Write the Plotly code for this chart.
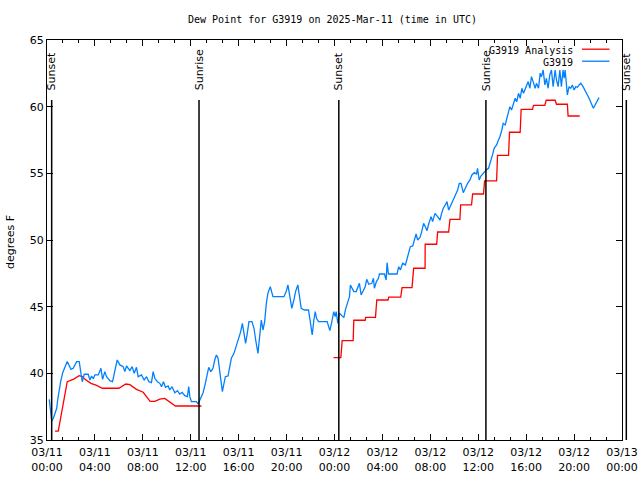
import pandas as pd
import plotly.graph_objects as go

BASE = pd.Timestamp("2025-03-11 00:00")

# Observed dew point (G3919): hours since 03/11 00:00 UTC, degrees F
obs_hours = [0.19, 0.28, 0.39, 0.53, 0.67, 0.81, 0.89, 1.0, 1.14, 1.31, 1.5, 1.69, 1.83, 2.0, 2.19, 2.47, 2.69, 2.83,
             2.94, 3.11, 3.44, 3.58, 3.72, 3.86, 4.0, 4.28, 4.5, 4.64, 4.83, 4.97, 5.25, 5.47, 5.67, 5.86, 6.08, 6.36,
             6.5, 6.64, 6.92, 7.11, 7.28, 7.47, 7.61, 7.89, 8.11, 8.31, 8.5, 8.72, 8.86, 9.0, 9.22, 9.42, 9.56, 9.72,
             9.89, 10.11, 10.25, 10.44, 10.67, 10.89, 11.08, 11.28, 11.5, 11.72, 11.83, 11.92, 12.06, 12.47, 12.61,
             12.75, 13.03, 13.22, 13.39, 13.5, 13.67, 13.86, 14.0, 14.14, 14.28, 14.42, 14.56, 14.64, 14.75, 14.89,
             15.11, 15.25, 15.39, 15.61, 15.81, 16.03, 16.17, 16.31, 16.44, 16.58, 16.72, 16.86, 17.11, 17.28, 17.42,
             17.61, 17.75, 17.89, 18.03, 18.17, 18.31, 18.44, 18.64, 18.86, 19.78, 19.97, 20.11, 20.25, 20.44, 20.61,
             20.75, 20.94, 21.08, 21.22, 21.5, 21.83, 22.0, 22.14, 22.28, 22.39, 22.5, 22.67, 23.39, 23.61, 23.78,
             23.94, 24.06, 24.14, 24.28, 24.42, 24.61, 24.78, 24.92, 25.06, 25.25, 25.33, 25.44, 25.61, 25.81, 25.94,
             26.08, 26.22, 26.39, 26.56, 26.69, 26.86, 27.11, 27.25, 27.33, 27.5, 27.67, 27.75, 28.17, 28.31, 28.39,
             28.5, 29.22, 29.36, 29.5, 29.69, 29.92, 30.06, 30.17, 30.33, 30.53, 30.67, 30.81, 30.94, 31.14, 31.28,
             31.44, 31.58, 31.72, 31.86, 32.06, 32.19, 32.39, 32.61, 32.81, 32.94, 33.08, 33.25, 33.39, 33.53, 33.72,
             33.92, 34.08, 34.28, 34.42, 34.56, 34.75, 34.92, 35.11, 35.31, 35.47, 35.67, 35.86, 35.94, 36.08, 36.22,
             36.36, 36.56, 36.72, 36.86, 37.06, 37.19, 37.33, 37.53, 37.69, 37.81, 37.97, 38.08, 38.25, 38.36, 38.5,
             38.64, 38.78, 38.92, 39.08, 39.22, 39.36, 39.5, 39.64, 39.78, 39.97, 40.17, 40.31, 40.44, 40.58, 40.75,
             40.86, 41.03, 41.17, 41.28, 41.42, 41.56, 41.69, 41.83, 41.97, 42.11, 42.25, 42.42, 42.53, 42.67, 42.81,
             42.94, 43.08, 43.17, 43.25, 43.36, 43.44, 43.58, 43.72, 43.86, 44.0, 44.14, 44.28, 44.42, 44.56, 44.75,
             44.97, 45.25, 45.61, 45.86, 46.08]
obs_values = [38.05, 37.13, 36.43, 36.63, 37.0, 37.38, 38.0, 38.75, 39.37, 40.05, 40.55, 40.88, 40.63, 40.3, 40.38,
              40.88, 40.88, 40.0, 39.37, 39.93, 39.93, 39.5, 39.8, 39.6, 39.88, 39.88, 40.38, 39.55, 40.13, 39.75,
              39.45, 39.37, 40.13, 41.0, 40.63, 40.5, 40.13, 40.55, 40.2, 40.5, 40.0, 40.45, 39.75, 39.88, 39.5, 39.75,
              39.37, 39.3, 40.13, 39.63, 39.37, 39.25, 39.0, 39.37, 38.95, 39.05, 38.75, 39.0, 38.55, 38.7, 38.45,
              38.58, 38.33, 38.25, 39.0, 38.25, 37.88, 37.88, 37.7, 38.0, 38.55, 39.25, 40.13, 40.45, 40.13, 40.38,
              41.0, 41.38, 41.13, 40.25, 39.25, 38.63, 39.13, 39.75, 39.8, 40.5, 41.13, 41.5, 42.13, 42.63, 43.13,
              43.75, 43.13, 42.25, 43.0, 43.88, 43.88, 43.38, 42.5, 41.5, 42.75, 44.0, 43.25, 43.88, 45.25, 46.0, 46.5,
              45.75, 45.75, 46.13, 46.63, 46.0, 44.88, 45.5, 46.13, 46.63, 45.88, 44.88, 44.75, 44.75, 43.75, 42.88,
              44.0, 44.63, 44.13, 43.88, 43.88, 43.2, 43.88, 44.63, 44.25, 44.63, 43.75, 44.5, 44.33, 44.18, 44.8,
              45.3, 45.75, 46.63, 46.45, 46.13, 46.13, 46.5, 46.75, 45.88, 46.25, 46.5, 47.05, 46.68, 46.75, 47.13,
              46.38, 46.88, 47.13, 47.45, 47.45, 47.0, 48.3, 47.45, 47.45, 48.0, 47.75, 48.25, 48.13, 48.63, 49.0,
              49.5, 49.55, 50.13, 50.45, 50.0, 50.2, 50.63, 51.25, 51.0, 50.7, 51.2, 51.75, 51.38, 52.0, 51.75, 51.5,
              52.0, 52.38, 52.63, 52.88, 52.25, 52.63, 53.05, 53.38, 53.75, 54.25, 54.25, 53.55, 53.88, 54.25, 54.5,
              54.88, 55.05, 54.95, 55.38, 54.5, 54.8, 54.95, 55.13, 55.3, 55.38, 56.13, 56.38, 56.88, 57.13, 57.5,
              57.75, 58.25, 58.75, 58.63, 59.0, 59.5, 60.0, 59.75, 60.25, 60.63, 60.38, 61.0, 60.63, 61.38, 61.0,
              61.38, 61.88, 61.38, 62.25, 61.88, 61.38, 61.75, 61.38, 62.5, 62.25, 62.75, 61.63, 62.13, 61.38, 62.38,
              62.75, 61.5, 62.75, 62.0, 61.5, 62.75, 61.5, 62.75, 62.13, 62.75, 61.63, 60.88, 61.5, 61.38, 61.63,
              61.25, 61.5, 61.45, 61.63, 61.75, 61.5, 61.13, 60.63, 59.88, 60.25, 60.68]

# Analysis (G3919 Analysis); None marks the gap in the analysis
ana_hours = [0.67, 0.94, 1.69, 2.19, 2.69, 2.97, 3.17, 3.67, 4.14, 4.61, 6.0, 6.58, 6.92, 7.47, 8.03, 8.61, 9.0, 9.42,
             9.83, 10.72, 12.89, 18.0,
             23.92, 24.53, 24.64, 25.56, 25.61, 26.56, 26.6, 27.42, 27.53, 28.47, 28.53, 29.53, 29.64, 30.47, 30.61,
             31.56, 31.57, 32.53, 32.61, 33.53, 33.64, 34.47, 34.53, 35.44, 35.53, 36.44, 36.53, 37.53, 37.61, 38.53,
             38.61, 39.5, 39.58, 40.53, 40.61, 41.56, 41.67, 42.42, 42.53, 43.44, 43.5, 44.47]
ana_values = [35.67, 35.67, 39.37, 39.55, 39.82, 39.75, 39.55, 39.25, 39.1, 38.88, 38.88, 39.2, 39.15, 38.8, 38.58,
              37.9, 37.9, 38.07, 38.12, 37.55, 37.55, None,
              41.18, 41.18, 42.45, 42.45, 43.98, 43.98, 44.2, 44.2, 45.5, 45.5, 45.72, 45.72, 46.43, 46.43, 47.88,
              47.88, 49.68, 49.68, 50.6, 50.6, 51.55, 51.55, 52.63, 52.63, 53.45, 53.45, 54.43, 54.43, 56.35, 56.35,
              58.08, 58.08, 59.8, 59.8, 60.1, 60.1, 60.48, 60.48, 60.18, 60.18, 59.3, 59.3]

# Sun events: hours since 03/11 00:00 UTC
event_hours = [0.39, 12.69, 24.36, 36.64, 48.36]
event_labels = ["Sunset", "Sunrise", "Sunset", "Sunrise", "Sunset"]

# Axis ticks
x_tick_hours = [0, 4, 8, 12, 16, 20, 24, 28, 32, 36, 40, 44, 48]
x_tick_labels = ["03/11<br>00:00", "03/11<br>04:00", "03/11<br>08:00", "03/11<br>12:00", "03/11<br>16:00",
                 "03/11<br>20:00", "03/12<br>00:00", "03/12<br>04:00", "03/12<br>08:00", "03/12<br>12:00",
                 "03/12<br>16:00", "03/12<br>20:00", "03/13<br>00:00"]
y_ticks = [35, 40, 45, 50, 55, 60, 65]

X_START, X_END = 0, 48
Y_MIN, Y_MAX = 35, 65

W, H = 640, 480
L, R, T, B = 47, 18, 40, 40
PW, PH = W - L - R, H - T - B


def to_time(hours):
    return [BASE + pd.Timedelta(hours=h) for h in hours]


RED = "#ff0000"
BLUE = "#0080ff"
MONO = "DejaVu Sans Mono"
SANS = "DejaVu Sans"

fig = go.Figure()
fig.add_trace(go.Scatter(x=to_time(ana_hours), y=ana_values, mode="lines", name="G3919 Analysis",
                         line=dict(color=RED, width=1.3), connectgaps=False))
fig.add_trace(go.Scatter(x=to_time(obs_hours), y=obs_values, mode="lines", name="G3919",
                         line=dict(color=BLUE, width=1.3)))

shapes = []
annotations = []
for h, lab in zip(event_hours, event_labels):
    xp = (h - X_START) / (X_END - X_START)
    shapes.append(dict(type="line", xref="paper", yref="paper", x0=xp, x1=xp, y0=0, y1=0.85,
                       line=dict(color="black", width=1.5)))
    annotations.append(dict(xref="paper", yref="paper", x=xp, y=0.868, text=lab, textangle=-90,
                            showarrow=False, xanchor="center", yanchor="bottom",
                            font=dict(family=SANS, size=11, color="black")))

# legend (text on the left, line sample on the right, as in the reference)
legend_items = [("G3919 Analysis", RED), ("G3919", BLUE)]
for i, (name, col) in enumerate(legend_items):
    yp = 1 - (10 + 12 * i) / PH
    annotations.append(dict(xref="paper", yref="paper", x=(574.5 - L) / PW, y=yp, text=name, showarrow=False,
                            xanchor="right", yanchor="middle", font=dict(family=MONO, size=10, color="black")))
    shapes.append(dict(type="line", xref="paper", yref="paper", x0=(582 - L) / PW, x1=(609.5 - L) / PW,
                       y0=yp + 0.002, y1=yp + 0.002, line=dict(color=col, width=1.3)))

# y-axis title
annotations.append(dict(xref="paper", yref="paper", x=(10 - L) / PW, y=(440 - 242) / PH, text="degrees F",
                        textangle=-90, showarrow=False, xanchor="center", yanchor="middle",
                        font=dict(family=SANS, size=11, color="black")))

fig.update_layout(
    width=W, height=H,
    margin=dict(l=L, r=R, t=T, b=B, autoexpand=False),
    paper_bgcolor="white", plot_bgcolor="white",
    showlegend=False,
    title=dict(text="Dew Point for G3919 on 2025-Mar-11 (time in UTC)", x=332.5 / W, xanchor="center",
               y=1 - 19 / H, yanchor="middle", font=dict(family=MONO, size=10, color="black")),
    shapes=shapes, annotations=annotations,
)
fig.update_xaxes(
    type="date", range=[to_time([X_START])[0], to_time([X_END])[0]], automargin=False,
    tickvals=to_time(x_tick_hours), ticktext=x_tick_labels,
    ticks="inside", ticklen=6, tickcolor="black", tickwidth=1, ticklabelstandoff=2,
    showline=True, linecolor="black", linewidth=1, mirror="allticks",
    showgrid=False, zeroline=False,
    tickfont=dict(family=SANS, size=11, color="black"),
    minor=dict(ticks="inside", ticklen=3, tickcolor="black", dtick=80 * 60 * 1000,
               tick0=to_time([X_START])[0], showgrid=False),
)
fig.update_yaxes(
    range=[Y_MIN, Y_MAX], tickvals=y_ticks, automargin=False,
    ticks="inside", ticklen=6, tickcolor="black", tickwidth=1,
    showline=True, linecolor="black", linewidth=1, mirror="allticks",
    showgrid=False, zeroline=False,
    tickfont=dict(family=SANS, size=11, color="black"),
)

fig.write_html("out.html", config={"displayModeBar": False},
               post_script="document.body.style.margin='0';document.body.style.overflow='hidden';")
